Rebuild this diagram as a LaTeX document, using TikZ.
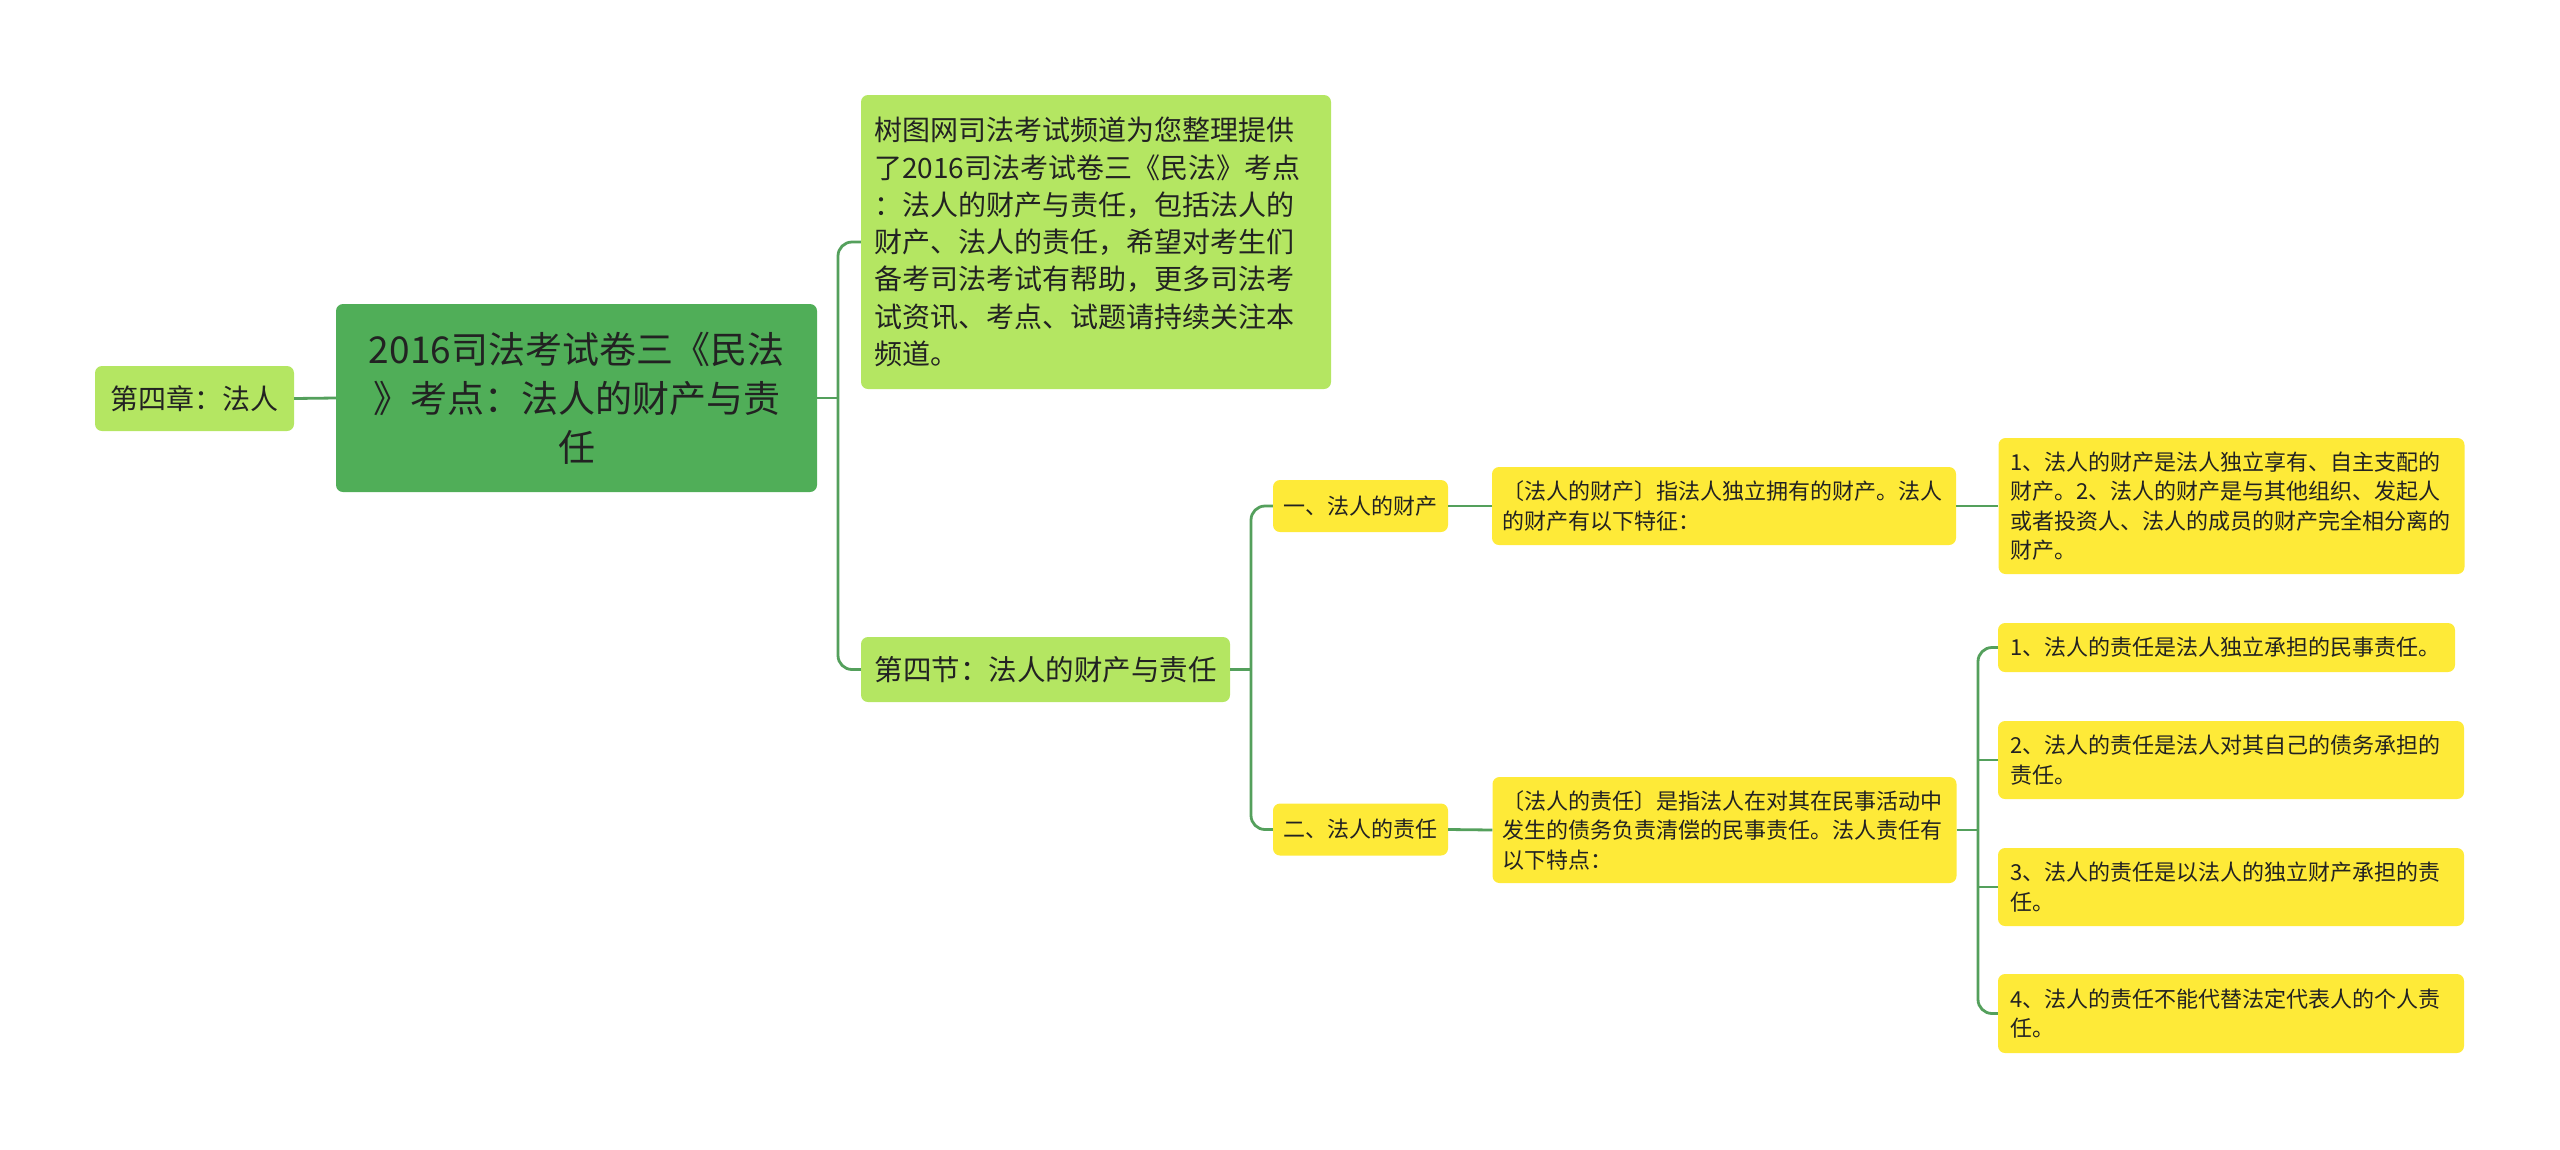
\documentclass[tikz,border=0pt]{standalone}
\usepackage{fontspec}
\setmainfont{Noto Sans CJK SC}
\usepackage{tikz}
\usetikzlibrary{
  positioning,
  calc
}
\definecolor{rootcolor}{RGB}{80, 174, 88}
\definecolor{leafgreen}{RGB}{180, 230, 98}
\definecolor{leafyellow}{RGB}{254, 234, 56}
\definecolor{linkcolor}{RGB}{84, 160, 92}
\definecolor{labelcolor}{RGB}{34, 34, 34}
\tikzset{
basebox/.style={
  rounded corners=7pt,
  inner ysep=0pt,
  text=labelcolor
},
rootblock/.style={
  basebox,
  fill=rootcolor,
  align=center,
  text width=457pt,
  inner xsep=12pt,
  minimum height=188pt,
  font=\fontsize{37}{49}\selectfont
},
chapterblock/.style={
  basebox,
  fill=leafgreen,
  minimum width=199pt,
  minimum height=65pt,
  font=\fontsize{28}{36}\selectfont
},
introblock/.style={
  basebox,
  fill=leafgreen,
  align=left,
  text width=444pt,
  inner xsep=13pt,
  minimum height=294pt,
  font=\fontsize{28}{37.3}\selectfont
},
sectionblock/.style={
  basebox,
  fill=leafgreen,
  minimum width=369pt,
  minimum height=65pt,
  font=\fontsize{28.5}{38}\selectfont
},
pointblock/.style={
  basebox,
  fill=leafyellow,
  minimum width=175pt,
  minimum height=52pt,
  font=\fontsize{22}{30}\selectfont
},
detailblock/.style={
  basebox,
  fill=leafyellow,
  align=left,
  text width=444pt,
  inner xsep=10pt,
  font=\fontsize{22}{29.5}\selectfont
},
itemblock/.style={
  basebox,
  fill=leafyellow,
  align=left,
  text width=442pt,
  inner xsep=12pt,
  font=\fontsize{22}{29.5}\selectfont
},
link/.style={
  draw=linkcolor,
  line width=2.8pt,
  rounded corners=14pt
}
}
\begin{document}
\begin{tikzpicture}[x=1pt,y=-1pt]
  \useasboundingbox (0,0) rectangle (2560,1149);

  % left part
  \node[rootblock] (root) at (576.5,398)
    {2016司法考试卷三《民法\\》考点：法人的财产与责\\任};
  \node[chapterblock] (chapter) at (194.5,398.5) {第四章：法人};

  % first level
  \node[introblock, minimum height=294pt] (intro) at (1096,242)
    {树图网司法考试频道为您整理提供\\了2016司法考试卷三《民法》考点\\：法人的财产与责任，包括法人的\\财产、法人的责任，希望对考生们\\备考司法考试有帮助，更多司法考\\试资讯、考点、试题请持续关注本\\频道。};
  \node[sectionblock] (section) at (1045.5,669.5) {第四节：法人的财产与责任};

  % second level
  \node[pointblock] (property) at (1360.5,506) {一、法人的财产};
  \node[pointblock] (liability) at (1360.5,829.5) {二、法人的责任};

  \node[detailblock, minimum height=78pt] (propdef) at (1724,506)
    {〔法人的财产〕指法人独立拥有的财产。法人\\的财产有以下特征：};
  \node[detailblock, minimum height=106pt] (liabdef) at (1724.5,830)
    {〔法人的责任〕是指法人在对其在民事活动中\\发生的债务负责清偿的民事责任。法人责任有\\以下特点：};

  % leaves
  \node[itemblock, minimum height=136pt] (propitem) at (2231.5,506)
    {1、法人的财产是法人独立享有、自主支配的\\财产。2、法人的财产是与其他组织、发起人\\或者投资人、法人的成员的财产完全相分离的\\财产。};
  \node[itemblock, text width=433pt, minimum height=49pt] (liabone) at (2226.5,647.5)
    {1、法人的责任是法人独立承担的民事责任。};
  \node[itemblock, minimum height=78pt] (liabtwo) at (2231,760)
    {2、法人的责任是法人对其自己的债务承担的\\责任。};
  \node[itemblock, minimum height=78pt] (liabthree) at (2231,887)
    {3、法人的责任是以法人的独立财产承担的责\\任。};
  \node[itemblock, minimum height=79pt] (liabfour) at (2231,1013.5)
    {4、法人的责任不能代替法定代表人的个人责\\任。};

  % trunks
  \coordinate (trunkroot) at (838,398);
  \coordinate (trunksec) at (1251,669.5);
  \coordinate (trunkliab) at (1978,830);

  % connectors
  \draw[link] (chapter.east) -- (root.west);
  \draw[link] (root.east) -- (trunkroot);
  \draw[link] (intro.west) -| (trunkroot) |- (section.west);
  \draw[link] (section.east) -- (trunksec);
  \draw[link] (property.west) -| (trunksec) |- (liability.west);
  \draw[link] (property.east) -- (propdef.west);
  \draw[link] (liability.east) -- (liabdef.west);
  \draw[link] (propdef.east) -- (propitem.west);
  \draw[link] (liabdef.east) -- (trunkliab);
  \draw[link] (liabone.west) -| (trunkliab) |- (liabfour.west);
  \draw[link] (trunkliab |- liabtwo.west) -- (liabtwo.west);
  \draw[link] (trunkliab |- liabthree.west) -- (liabthree.west);
\end{tikzpicture}
\end{document}
